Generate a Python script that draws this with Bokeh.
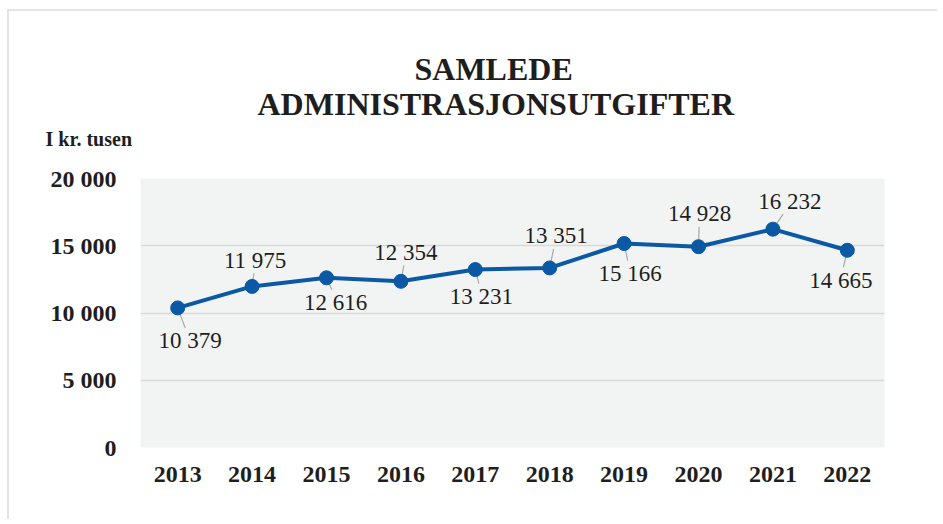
from bokeh.plotting import figure
from bokeh.models import ColumnDataSource, FixedTicker, Range1d, FactorRange, Title
from bokeh.core.properties import value
from bokeh.embed import file_html
from bokeh.resources import INLINE

years = ["2013", "2014", "2015", "2016", "2017", "2018", "2019", "2020", "2021", "2022"]
values = [10379, 11975, 12616, 12354, 13231, 13351, 15166, 14928, 16232, 14665]
value_labels = ["10 379", "11 975", "12 616", "12 354", "13 231", "13 351", "15 166", "14 928", "16 232", "14 665"]
y_ticks = [0, 5000, 10000, 15000, 20000]
y_tick_labels = ["0", "5 000", "10 000", "15 000", "20 000"]
title_lines = ["SAMLEDE", "ADMINISTRASJONSUTGIFTER"]
unit_label = "I kr. tusen"

# label placement (pixels, relative to point; +y = down)
lab_dx = [12.5, 3, 9, 5, 6, 6.5, 6, 1, 17, -6.5]
lab_dy = [33, -26, 25, -29, 27, -32, 30, -33, -28, 30]

W, H = 930, 510
BL, BR, BT, BB = 131, 55, 167, 74
frame_w = W - BL - BR
frame_h = H - BT - BB
Y_MAX = 20000
px_per_cat = frame_w / len(years)
px_to_y = Y_MAX / frame_h

SERIF = "Liberation Serif"
BLUE = "#0b58a4"
TXT = "#1e1e1e"

p = figure(width=W, height=H, x_range=FactorRange(*years, range_padding=0),
           y_range=Range1d(0, Y_MAX), output_backend="svg", toolbar_location=None,
           min_border_left=BL, min_border_right=BR, min_border_top=BT, min_border_bottom=BB,
           background_fill_color="#f2f4f4", border_fill_color="white",
           outline_line_color=None, title=None,
           styles={"border-top": "2px solid #e4e4e4", "border-left": "2px solid #e4e4e4",
                   "margin-left": "7px", "margin-top": "9px"})

p.xgrid.grid_line_color = None
p.ygrid.grid_line_color = "#d9d9d9"
p.ygrid.grid_line_width = 1.5
p.yaxis.ticker = FixedTicker(ticks=y_ticks)
p.yaxis.major_label_overrides = {t: l for t, l in zip(y_ticks, y_tick_labels)}
for ax in (p.xaxis[0], p.yaxis[0]):
    ax.axis_line_color = None
    ax.major_tick_line_color = None
    ax.minor_tick_line_color = None
    ax.major_label_text_font = SERIF
    ax.major_label_text_font_style = "bold"
    ax.major_label_text_font_size = "24px"
    ax.major_label_text_color = TXT
p.yaxis.major_label_standoff = 18
p.xaxis.major_label_standoff = 13

# leader lines
x_idx = [i + 0.5 for i in range(len(years))]
lx0, ly0, lx1, ly1 = [], [], [], []
for i, v in enumerate(values):
    dx, dy = lab_dx[i], lab_dy[i]
    ex = dx * 0.6
    ey = dy - (13 if dy > 0 else -13)
    lx0.append(x_idx[i]); ly0.append(v)
    lx1.append(x_idx[i] + ex / px_per_cat); ly1.append(v - ey * px_to_y)
p.segment(x0=lx0, y0=ly0, x1=lx1, y1=ly1, line_color="#a8a8a8", line_width=1.2)

src = ColumnDataSource(dict(x=years, y=values, lab=value_labels, dx=lab_dx, dy=lab_dy))
p.line("x", "y", source=src, line_color=BLUE, line_width=4)
p.scatter("x", "y", source=src, size=14, fill_color=BLUE, line_color=BLUE)
p.text("x", "y", text="lab", source=src, x_offset="dx", y_offset="dy",
       text_font=value(SERIF), text_font_size="23px", text_color=TXT,
       text_align="center", text_baseline="middle")

# titles stacked outward from the frame (first = nearest the frame)
p.add_layout(Title(text=" ", align="left", standoff=4.5, text_font=SERIF,
                   text_font_style="bold", text_font_size="20px"), "above")
p.add_layout(Title(text=unit_label, align="left", offset=-95, standoff=0, text_font=SERIF,
                   text_font_style="bold", text_font_size="20px", text_color=TXT), "above")
p.add_layout(Title(text=title_lines[1], align="left", offset=117, standoff=7.5, text_font=SERIF,
                   text_font_style="bold", text_font_size="32px", text_color=TXT), "above")
p.add_layout(Title(text=title_lines[0], align="left", offset=274, standoff=-14.5, text_font=SERIF,
                   text_font_style="bold", text_font_size="32px", text_color=TXT), "above")

open("out.html", "w").write(file_html(p, INLINE))
